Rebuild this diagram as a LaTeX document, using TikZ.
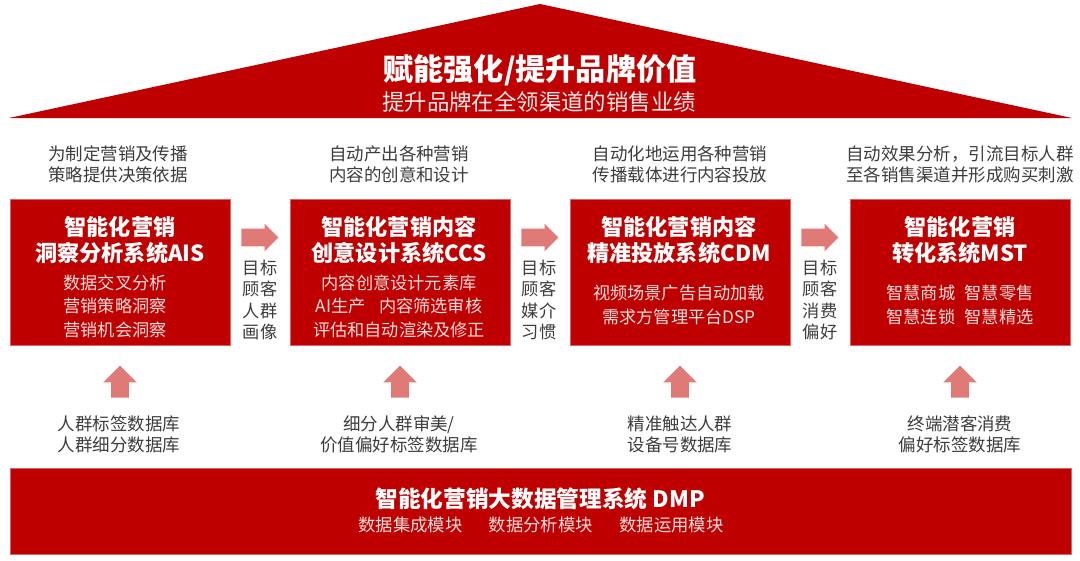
\documentclass[tikz,border=0pt]{standalone}
\usepackage{fontspec}
\setmainfont{Noto Sans CJK SC}
\usetikzlibrary{shapes.arrows}
\definecolor{roofred}{RGB}{190,0,0}
\definecolor{arrowred}{RGB}{224,122,118}
\definecolor{itempink}{RGB}{250,222,220}
\definecolor{notegray}{RGB}{60,60,60}
\tikzset{
    redbox/.style={draw=roofred!60!white, line width=.4pt, fill=roofred, inner sep=0pt, minimum width=165pt, minimum height=109.5pt},
    boxtitle/.style={text=white, align=center, font=\fontsize{16.6}{19.6}\selectfont\bfseries},
    boxitem/.style={text=itempink, align=center, font=\fontsize{12.9}{17.6}\selectfont},
    note/.style={text=notegray, align=center, font=\fontsize{13.1}{15.8}\selectfont},
    sidenote/.style={text=notegray, align=center, font=\fontsize{12.9}{16.2}\selectfont},
    arrowright/.style={shape=single arrow, fill=arrowred, inner xsep=0pt, inner ysep=6.4pt, single arrow head extend=3.75pt, minimum height=27.75pt},
    arrowup/.style={shape=single arrow, rotate=90, fill=arrowred, inner xsep=0pt, inner ysep=6.4pt, single arrow head extend=6pt, minimum height=24pt}
}
\begin{document}
\begin{tikzpicture}[x=.75pt, y=-.75pt]
    \useasboundingbox (0,0) rectangle (1080,560);
    % roof
    \fill[roofred] (9,118) -- (540,4) -- (1072,118) -- cycle;
    \node[text=white, font=\fontsize{22.6}{28}\selectfont\bfseries] (rooftitle) at (540,70) {赋能强化/提升品牌价值};
    \node[text=white!92!roofred, font=\fontsize{16.8}{20}\selectfont] (roofsub) at (539,102) {提升品牌在全领渠道的销售业绩};
    % notes above the boxes
    \node[note] (topa) at (118,164) {为制定营销及传播\\策略提供决策依据};
    \node[note] (topb) at (399,164) {自动产出各种营销\\内容的创意和设计};
    \node[note] (topc) at (680,164) {自动化地运用各种营销\\传播载体进行内容投放};
    \node[note] (topd) at (960,164) {自动效果分析，引流目标人群\\至各销售渠道并形成购买刺激};
    % boxes
    \node[redbox] (ais) at (120,272) {};
    \node[redbox] (ccs) at (400,272) {};
    \node[redbox] (cdm) at (680,272) {};
    \node[redbox] (mst) at (960.5,272) {};
    \node[boxtitle] (aist) at (120,240) {智能化营销\\洞察分析系统AIS};
    \node[boxtitle] (ccst) at (399,240) {智能化营销内容\\创意设计系统CCS};
    \node[boxtitle] (cdmt) at (679,240) {智能化营销内容\\精准投放系统CDM};
    \node[boxtitle] (mstt) at (960,240) {智能化营销\\转化系统MST};
    \node[boxitem] (aisi) at (115,306) {数据交叉分析\\营销策略洞察\\营销机会洞察};
    \node[boxitem] (ccsi) at (399,306) {内容创意设计元素库\\AI生产\hspace{10pt}内容筛选审核\\评估和自动渲染及修正};
    \node[boxitem] (cdmi) at (679,305) {视频场景广告自动加载\\需求方管理平台DSP};
    \node[boxitem] (msti) at (960,305) {智慧商城\hspace{7pt}智慧零售\\智慧连锁\hspace{7pt}智慧精选};
    % arrows between the boxes
    \foreach \x in {255.5,535.5,815.5}
        \node[arrowright] (right\x) at (\x,237.5) {};
    \node[sidenote] (sidea) at (260,300) {目标\\顾客\\人群\\画像};
    \node[sidenote] (sideb) at (539,300) {目标\\顾客\\媒介\\习惯};
    \node[sidenote] (sidec) at (820,300) {目标\\顾客\\消费\\偏好};
    % arrows up from the databases
    \foreach \x in {120,400,680,960}
        \node[arrowup] (up\x) at (\x,386) {};
    \node[note] (dba) at (119,434) {人群标签数据库\\人群细分数据库};
    \node[note] (dbb) at (399,434) {细分人群审美/\\价值偏好标签数据库};
    \node[note] (dbc) at (680,434) {精准触达人群\\设备号数据库};
    \node[note] (dbd) at (960,434) {终端潜客消费\\偏好标签数据库};
    % platform
    \node[redbox, minimum width=795.75pt, minimum height=64.5pt] (dmp) at (540.5,511) {};
    \node[text=white, font=\fontsize{17}{20}\selectfont\bfseries] (dmpt) at (540,499) {智能化营销大数据管理系统 DMP};
    \node[text=itempink, font=\fontsize{13}{16}\selectfont] (dmpi) at (541,525) {数据集成模块\hspace{20pt}数据分析模块\hspace{20pt}数据运用模块};
\end{tikzpicture}
\end{document}
